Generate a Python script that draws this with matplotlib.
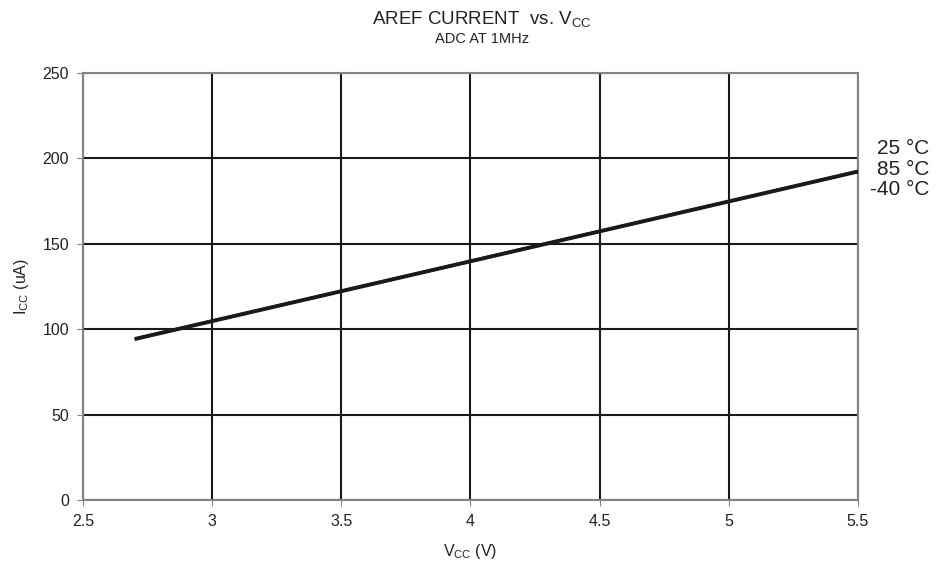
import matplotlib
matplotlib.use("Agg")
import matplotlib.pyplot as plt

plt.rcParams['font.family'] = ['Liberation Sans', 'DejaVu Sans']

vcc = [2.7, 3.0, 3.5, 4.0, 4.5, 5.0, 5.5]
i_25 = [94.5, 105.0, 122.5, 140.0, 157.5, 175.0, 192.5]
i_85 = [94.3, 104.8, 122.3, 139.8, 157.3, 174.8, 192.3]
i_m40 = [94.0, 104.5, 122.0, 139.5, 157.0, 174.5, 192.0]
labels = ["25 °C", "85 °C", "-40 °C"]
label_y = [206, 193.5, 182]
xticks = [2.5, 3, 3.5, 4, 4.5, 5, 5.5]
xticklabels = ["2.5", "3", "3.5", "4", "4.5", "5", "5.5"]
yticks = [0, 50, 100, 150, 200, 250]

fig = plt.figure(figsize=(9.48, 5.69), dpi=100)
ax = fig.add_axes([0.0876, 0.121, 0.905 - 0.0876, 0.879 - 0.128])

for ys in (i_25, i_85, i_m40):
    ax.plot(vcc, ys, color='#1a1a1a', lw=2.2, solid_capstyle='butt', zorder=3)

ax.set_xlim(2.5, 5.5)
ax.set_ylim(0, 250)
ax.set_xticks(xticks)
ax.set_xticklabels(xticklabels)
ax.set_yticks(yticks)
ax.grid(True, color='#1a1a1a', lw=1.5)
ax.set_axisbelow(True)
for s in ax.spines.values():
    s.set_color('#808388')
    s.set_linewidth(1.5)
ax.tick_params(direction='out', length=4, color='#808388', labelsize=11.5, labelcolor='#222222', pad=6)

ax.set_xlabel(r"V$_{\mathregular{CC}}$ (V)", fontsize=11.5, color='#222222', labelpad=9)
ax.set_ylabel(r"I$_{\mathregular{CC}}$ (uA)", fontsize=11.5, color='#222222', labelpad=8)

fig.text(0.508, 0.965, r"AREF CURRENT  vs. V$_{\mathregular{CC}}$", ha='center', va='center', fontsize=13.5, color='#222222')
fig.text(0.508, 0.932, "ADC AT 1MHz", ha='center', va='center', fontsize=10.5, color='#222222')

for lab, yv in zip(labels, label_y):
    ax.text(1.0916, yv, lab, transform=ax.get_yaxis_transform(),
            ha='right', va='center', fontsize=15, color='#222222')

fig.savefig("out.png", dpi=100)
